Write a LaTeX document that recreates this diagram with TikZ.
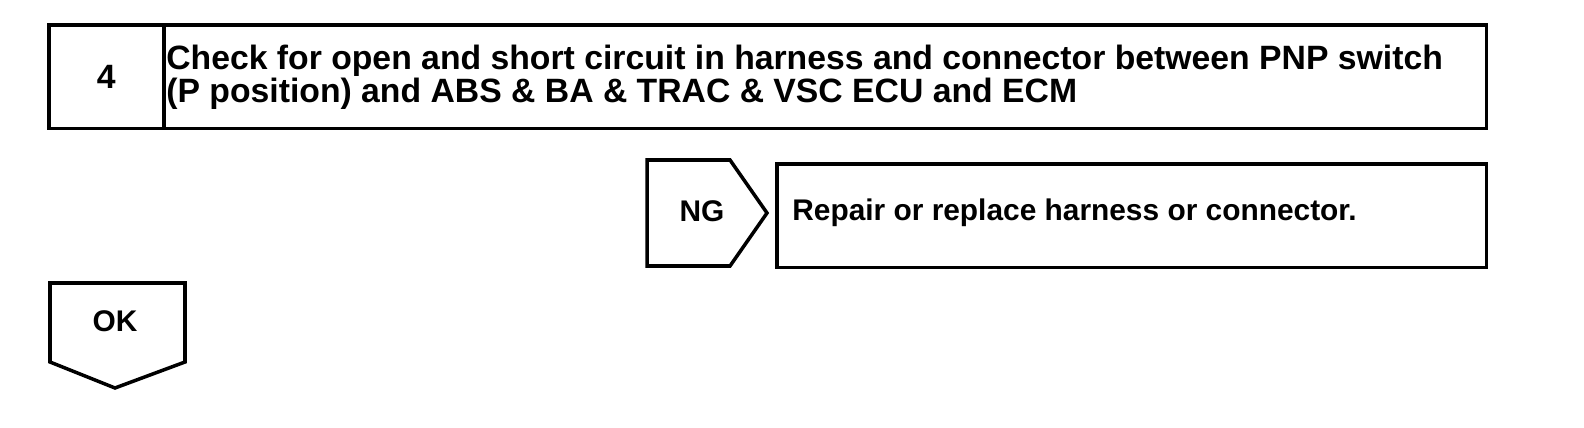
\documentclass[tikz,border=0pt]{standalone}
\usepackage{fontspec}
\setmainfont{Liberation Sans}
\begin{document}
\begin{tikzpicture}[x=0.02cm, y=-0.02cm,
    frame/.style={draw, line width=2pt, anchor=north west, inner sep=0pt},
    txt/.style={font=\bfseries\fontsize{19.2}{14.8}\selectfont, align=left, inner sep=0pt},
    small/.style={txt, font=\bfseries\fontsize{17}{17}\selectfont},
    tab/.style={draw, line width=2pt, line join=miter}
]
\useasboundingbox (0,0) rectangle (1584,428);

% Row 1 - Check step
\node[frame, txt, minimum width=2.3cm, minimum height=2.08cm] (stepno) at (47,23) {4};
\node[frame, minimum width=26.46cm, minimum height=2.08cm] (check) at (162,23) {};
\node[txt, anchor=north west] (checktext) at (166,45)
    {Check for open and short circuit in harness and connector between PNP switch\\(P position) and ABS \& BA \& TRAC \& VSC ECU and ECM};

% Row 2 - NG branch
\draw[tab] (647,160) -- (730,160) -- (767,213) -- (730,266) -- (647,266) -- cycle;
\node[small] (ng) at (702,211) {NG};
\node[frame, minimum width=14.2cm, minimum height=2.08cm] (repair) at (775,162) {};
\node[small, anchor=west] (repairtext) at (792,213) {Repair or replace harness or connector.};

% Row 3 - OK branch
\draw[tab] (50,283) -- (185,283) -- (185,362) -- (115,388) -- (50,362) -- cycle;
\node[small] (ok) at (115,321) {OK};
\end{tikzpicture}
\end{document}
